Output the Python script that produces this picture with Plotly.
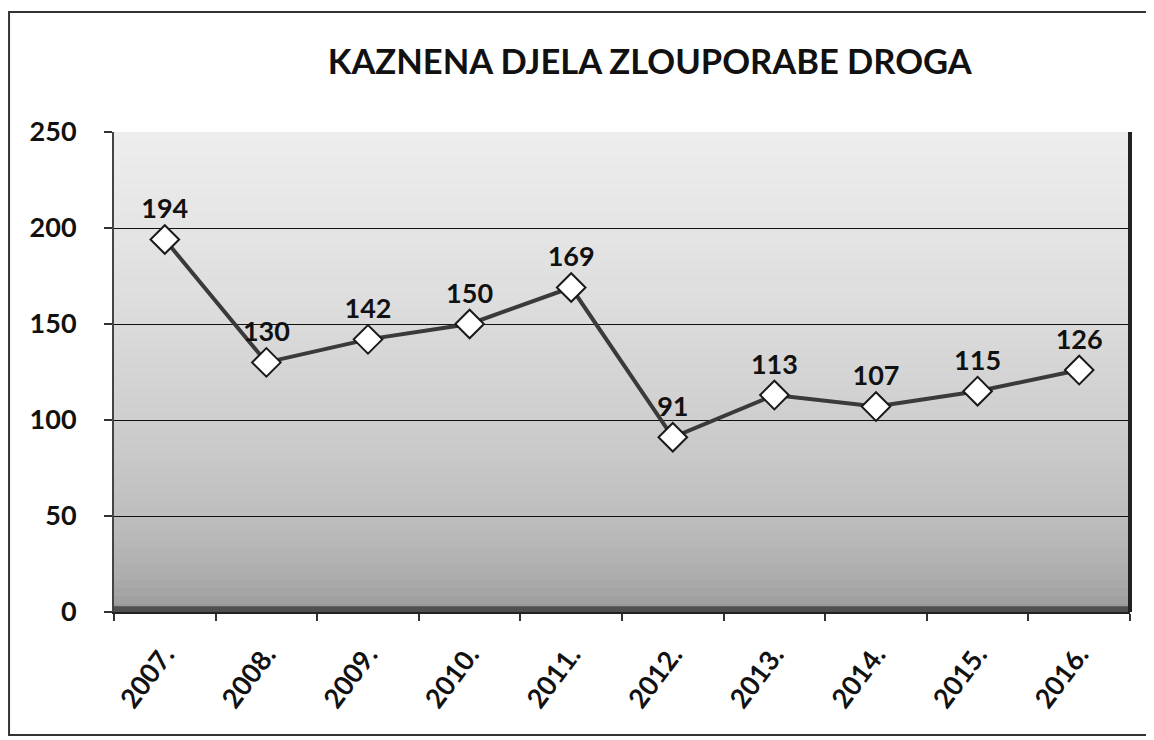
import plotly.graph_objects as go

years = ["2007.", "2008.", "2009.", "2010.", "2011.", "2012.", "2013.", "2014.", "2015.", "2016."]
values = [194, 130, 142, 150, 169, 91, 113, 107, 115, 126]
y_ticks = [0, 50, 100, 150, 200, 250]
title_text = "KAZNENA DJELA ZLOUPORABE DROGA"

FONT = "Lato"

fig = go.Figure()
fig.add_trace(go.Scatter(
    x=years, y=values,
    mode="lines+markers+text",
    line=dict(color="#3a3a3a", width=4),
    marker=dict(symbol="diamond", size=22, color="white",
                line=dict(color="#1a1a1a", width=2)),
    text=[str(v) for v in values],
    textposition="top center",
    textfont=dict(family=FONT, size=27, color="#111", weight="bold"),
    cliponaxis=False,
    showlegend=False,
))

# gradient background for the plot area (light at top, dark at bottom)
n = 60
shapes = []
for i in range(n):
    t0 = i / n
    t1 = (i + 1) / n
    tm = (t0 + t1) / 2
    g = int(140 + (238 - 140) * (tm ** 0.42))
    shapes.append(dict(type="rect", xref="x domain", yref="y domain",
                       x0=0, x1=1, y0=t0, y1=t1, layer="below",
                       line=dict(width=0),
                       fillcolor=f"rgb({g},{g},{g})"))
shapes.append(dict(type="rect", xref="x domain", yref="y domain",
                   x0=0, x1=1, y0=0, y1=0.012, layer="below",
                   line=dict(width=0), fillcolor="rgb(80,80,80)"))
# right edge of plot area (dark)
shapes.append(dict(type="line", xref="x domain", yref="y domain",
                   x0=1, x1=1, y0=0, y1=1, line=dict(color="#222", width=4)))
# outer frame
shapes.append(dict(type="rect", xref="paper", yref="paper",
                   x0=-0.1033, x1=1.0177, y0=-0.256, y1=1.25,
                   line=dict(color="#333", width=2), layer="below"))

fig.update_layout(
    width=1146, height=732,
    margin=dict(l=106, r=24, t=124, b=128, autoexpand=False),
    paper_bgcolor="white",
    plot_bgcolor="rgba(0,0,0,0)",
    title=dict(text=title_text, x=0.560, xanchor="center", xref="container",
               y=0.926, yanchor="middle", yref="container",
               font=dict(family=FONT, size=34.5, color="#111", weight="bold")),
    shapes=shapes,
    xaxis=dict(
        type="category", range=[-0.5, 9.5], automargin=False,
        tickson="boundaries", ticks="outside", ticklen=7,
        tickcolor="#333", tickwidth=1.5,
        tickangle=-53, ticklabelstandoff=14,
        tickfont=dict(family=FONT, size=27, color="#111", weight="bold"),
        showline=True, linecolor="#222", linewidth=2,
        showgrid=False,
    ),
    yaxis=dict(
        range=[0, 250], tickvals=y_ticks, ticks="outside", ticklen=8,
        automargin=False,
        tickcolor="#333", tickwidth=1.5, ticklabelstandoff=22,
        tickfont=dict(family=FONT, size=27, color="#111", weight="bold"),
        showgrid=True, gridcolor="#111", gridwidth=1.3,
        showline=True, linecolor="#444", linewidth=2,
        zeroline=False,
    ),
)

fig.write_html("out.html")
